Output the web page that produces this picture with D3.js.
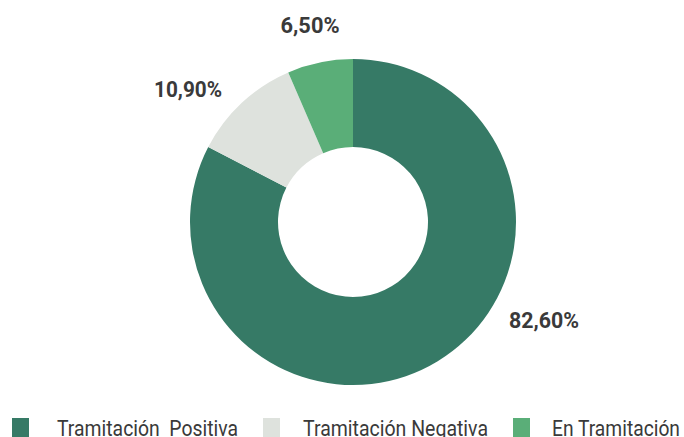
<!DOCTYPE html>
<html><head><meta charset="utf-8">
<script src="https://cdn.jsdelivr.net/npm/d3@7"></script>
<style>
html,body{margin:0;padding:0;background:#fff;}
svg{display:block;}
text{font-family:"Roboto","Noto Sans",sans-serif;}
</style></head>
<body>
<script>
const categories = ["Tramitación  Positiva", "Tramitación Negativa", "En Tramitación"];
const values = [82.6, 10.9, 6.5];
const labels = ["82,60%", "10,90%", "6,50%"];
const colors = ["#367a66", "#dee2dd", "#5aae78"];

// layout (label anchor points, target text widths, legend x positions)
const labelPos = [[544, 328], [188, 97], [310, 33]];
const labelWidth = [70, 68, 59];
const legendBoxX = [12, 263, 513];
const legendTextX = [57, 303, 552];
const legendTextW = [181, 185, 128];

const W = 684, H = 437;
const cx = 353, cy = 222, rOuter = 163, rInner = 75;

const svg = d3.select("body").append("svg").attr("width", W).attr("height", H);

const pie = d3.pie().sort(null).value(d => d)(values);
const arc = d3.arc().innerRadius(rInner).outerRadius(rOuter);

const g = svg.append("g").attr("transform", `translate(${cx},${cy})`);
g.selectAll("path").data(pie).join("path")
  .attr("d", arc)
  .attr("fill", (d, i) => colors[i]);

svg.selectAll("text.lbl").data(labels).join("text")
  .attr("class", "lbl")
  .attr("x", (d, i) => labelPos[i][0])
  .attr("y", (d, i) => labelPos[i][1])
  .attr("text-anchor", "middle")
  .attr("font-size", 22)
  .attr("font-weight", "bold")
  .attr("fill", "#3a3a3a")
  .attr("textLength", (d, i) => labelWidth[i])
  .attr("lengthAdjust", "spacingAndGlyphs")
  .text(d => d);

const leg = svg.selectAll("g.leg").data(categories).join("g")
  .attr("class", "leg");
leg.append("rect")
  .attr("x", (d, i) => legendBoxX[i]).attr("y", 418)
  .attr("width", 17).attr("height", 19)
  .attr("fill", (d, i) => colors[i]);
leg.append("text")
  .attr("x", (d, i) => legendTextX[i]).attr("y", 436)
  .attr("font-size", 22).attr("fill", "#3a3a3a")
  .attr("xml:space", "preserve").style("white-space", "pre")
  .attr("textLength", (d, i) => legendTextW[i])
  .attr("lengthAdjust", "spacingAndGlyphs")
  .text(d => d);
</script>
</body></html>
